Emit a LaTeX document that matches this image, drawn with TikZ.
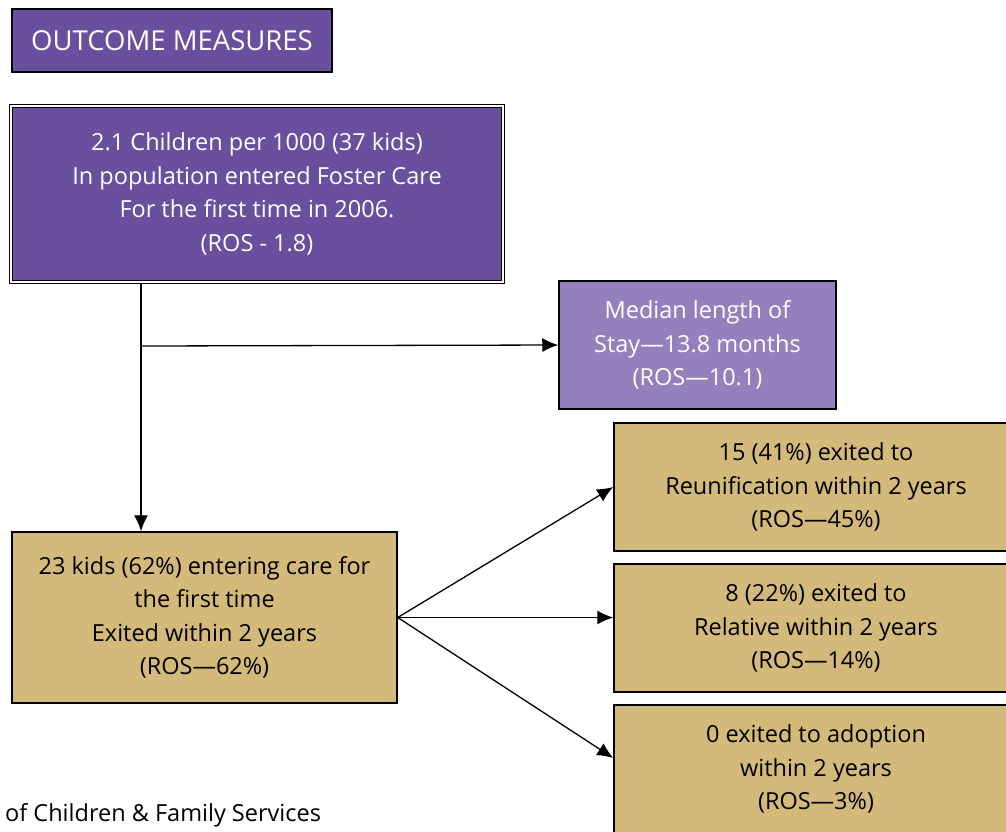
\documentclass[tikz,border=0pt]{standalone}
\usepackage{fontspec}
\setmainfont{Open Sans}
\usepackage{xcolor}
\usetikzlibrary{arrows.meta,positioning}
\definecolor{darkplum}{HTML}{6A4F9F}
\definecolor{lightplum}{HTML}{9480BC}
\definecolor{khaki}{HTML}{D4BA7A}

\begin{document}
\begin{tikzpicture}[
	x=1pt, y=-1pt,
	every node/.style = {shape=rectangle, align=center, inner sep=0pt,
	font=\fontsize{23.5}{33.5}\selectfont},
	plumbox/.style = {draw=black, line width=1.5pt, fill=darkplum, text=white},
	lightbox/.style = {draw=black, line width=1.5pt, fill=lightplum, text=white},
	khakibox/.style = {draw=black, line width=1.5pt, fill=khaki, text=black},
	conn/.style = {-{Latex[length=16pt,width=14pt]}, line width=1.3pt}
]
\useasboundingbox (0,0) rectangle (1006,831);
\clip (0,0) rectangle (1006,831);

% heading
\node[plumbox, minimum width=320pt, minimum height=63pt,
	font=\fontsize{27.5}{30}\selectfont] (heading) at (172,40.5) {OUTCOME MEASURES};

% first entries
\node[plumbox, double=white, double distance=1.5pt, line width=1pt,
	minimum width=492pt, minimum height=176pt] (entered) at (257,194)
	{2.1 Children per 1000 (37 kids)\\In population entered Foster Care\\For the first time in 2006.\\(ROS - 1.8)};
\node[lightbox, minimum width=277pt, minimum height=128pt] (stay) at (697.5,345)
	{Median length of\\Stay---13.8 months\\(ROS---10.1)};
\node[khakibox, minimum width=385pt, minimum height=171pt] (exited) at (204.5,617.5)
	{23 kids (62\%) entering care for\\the first time\\Exited within 2 years\\(ROS---62\%)};

% exits
\node[khakibox, minimum width=404pt, minimum height=128pt] (reunify) at (816,487)
	{15 (41\%) exited to\\Reunification within 2 years\\(ROS---45\%)};
\node[khakibox, minimum width=404pt, minimum height=128pt] (relative) at (816,628)
	{8 (22\%) exited to\\Relative within 2 years\\(ROS---14\%)};
\node[khakibox, minimum width=404pt, minimum height=128pt] (adopt) at (816,769)
	{0 exited to adoption\\within 2 years\\(ROS---3\%)};

\node[anchor=west] (dept) at (5,815) {of Children \& Family Services};

% connectors
\coordinate (split) at (141,346);
\draw[conn] (split |- entered.south) -- (split |- exited.north);
\draw[conn] (split) -- (stay.west);
\draw[conn] (exited.east) -- (reunify.west);
\draw[conn] (exited.east) -- (exited.east -| relative.west);
\draw[conn] (exited.east) -- ([yshift=11pt]adopt.west);
\end{tikzpicture}
\end{document}
